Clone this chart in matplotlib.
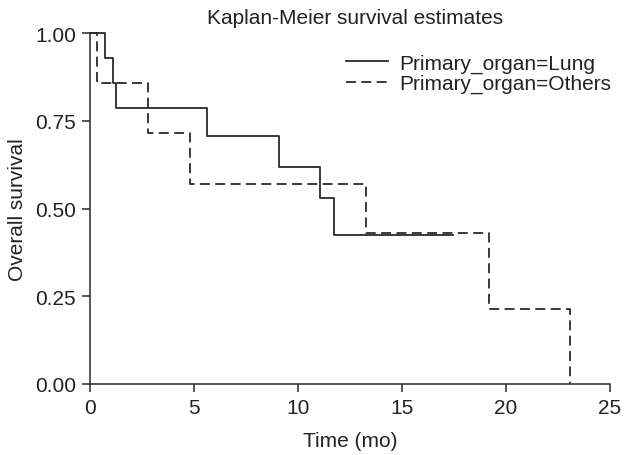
import numpy as np
import matplotlib
matplotlib.use("Agg")
from matplotlib import pyplot

pyplot.rcParams['font.family'] = ['Liberation Sans', 'DejaVu Sans']

# Kaplan-Meier step points
lung_time = [0, 0.72, 1.12, 1.25, 5.64, 9.10, 11.06, 11.71, 17.47]
lung_surv = [1.0, 0.929, 0.857, 0.786, 0.707, 0.619, 0.530, 0.424, 0.424]

others_time = [0, 0.32, 2.80, 4.81, 13.27, 19.17, 23.09]
others_surv = [1.0, 0.857, 0.714, 0.571, 0.429, 0.214, 0.0]

labels = ["Primary_organ=Lung", "Primary_organ=Others"]
xticks = [0, 5, 10, 15, 20, 25]
yticks = [0.0, 0.25, 0.50, 0.75, 1.00]

fig = pyplot.figure(figsize=(6.24, 4.56), dpi=100)
ax = fig.add_axes([90/624, 71/456, 520/624, 351/456])

col = '#2a2a2a'
txt = '#222222'
fs = 15

ax.step(lung_time, lung_surv, where='post', color=col, lw=1.3, label=labels[0])
ax.step(others_time, others_surv, where='post', color=col, lw=1.3,
        dashes=(5.5, 3), label=labels[1])

ax.set_xlim(0, 25)
ax.set_ylim(0, 1)
ax.set_xticks(xticks)
ax.set_yticks(yticks)
ax.set_yticklabels(["%.2f" % v for v in yticks])
for s in ['top', 'right']:
    ax.spines[s].set_visible(False)
for s in ['left', 'bottom']:
    ax.spines[s].set_color(col)
    ax.spines[s].set_linewidth(1.1)
ax.tick_params(direction='out', length=6, width=1.1, color=col,
               labelsize=fs, labelcolor=txt, pad=4)

ax.set_xlabel("Time (mo)", fontsize=fs, color=txt, labelpad=10)
ax.set_ylabel("Overall survival", fontsize=fs, color=txt, labelpad=6)

fig.text(355/624, 1 - 18/456, "Kaplan-Meier survival estimates",
         ha='center', va='center', fontsize=fs, color=txt)

leg = ax.legend(loc='upper right', bbox_to_anchor=(1.018, 1.0 - 0.035),
                frameon=False, fontsize=fs, handlelength=2.0,
                handletextpad=0.55, labelspacing=0.05, borderaxespad=0.0)
for t in leg.get_texts():
    t.set_color(txt)

ax.patch.set_alpha(0)
for l in ax.lines:
    l.set_clip_on(False)

fig.savefig("out.png", dpi=100)
